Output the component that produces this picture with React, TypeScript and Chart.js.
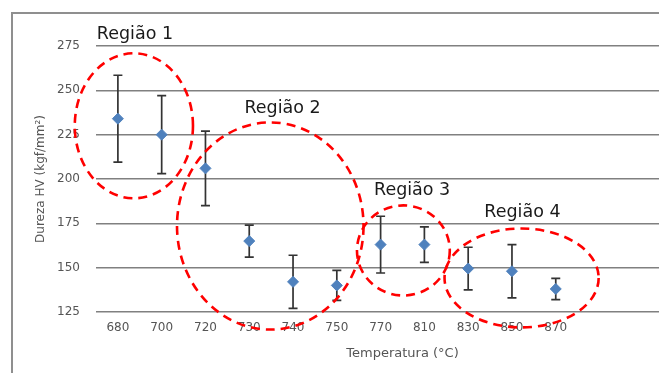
import React, { useEffect, useRef } from 'react';
import { Chart, registerables } from 'chart.js';

Chart.register(...registerables);

// ---- data ----
const temperatures = ['680', '700', '720', '730', '740', '750', '770', '810', '830', '850', '870'];
const emptySlots = ['', '', ''];
const hardness = [234, 225, 206, 165, 142, 140, 163, 163, 149.5, 148, 138];
const hardnessError = [24.5, 22, 21, 9, 15, 8.5, 16, 10, 12, 15, 6];
const yMin = 125;
const yMax = 275;
const yStep = 25;

// region annotations (category index / value coordinates)
const regionNames = ['Região 1', 'Região 2', 'Região 3', 'Região 4'];
const regionLabelX = [0.39, 3.76, 6.72, 9.24];
const regionLabelY = [278.8, 237.0, 190.7, 178.3];
const regionCenterX = [0.365, 3.48, 6.52, 9.22];
const regionCenterY = [230.0, 173.5, 159.7, 144.2];
const regionRadiusX = [1.35, 2.13, 1.06, 1.76];
const regionRadiusY = [40.9, 58.4, 25.4, 27.9];

const FONT = '"DejaVu Sans", sans-serif';

const errorBarPlugin = {
  id: 'errorBars',
  beforeDatasetsDraw(chart: any) {
    const { ctx, scales } = chart;
    const x = scales.x;
    const y = scales.y;
    ctx.save();
    ctx.strokeStyle = '#333333';
    ctx.lineWidth = 1.7;
    hardness.forEach((v, i) => {
      const px = x.getPixelForValue(i);
      const top = y.getPixelForValue(v + hardnessError[i]);
      const bot = y.getPixelForValue(v - hardnessError[i]);
      const cap = 4.5;
      ctx.beginPath();
      ctx.moveTo(px, top);
      ctx.lineTo(px, bot);
      ctx.moveTo(px - cap, top);
      ctx.lineTo(px + cap, top);
      ctx.moveTo(px - cap, bot);
      ctx.lineTo(px + cap, bot);
      ctx.stroke();
    });
    ctx.restore();
  },
};

const regionPlugin = {
  id: 'regions',
  afterDraw(chart: any) {
    const { ctx, scales } = chart;
    const x = scales.x;
    const y = scales.y;
    ctx.save();
    ctx.strokeStyle = '#ff0000';
    ctx.lineWidth = 2.6;
    ctx.setLineDash([9, 6]);
    regionNames.forEach((_, i) => {
      const cx = x.getPixelForValue(regionCenterX[i]);
      const cy = y.getPixelForValue(regionCenterY[i]);
      const rx = Math.abs(x.getPixelForValue(regionCenterX[i] + regionRadiusX[i]) - cx);
      const ry = Math.abs(y.getPixelForValue(regionCenterY[i] + regionRadiusY[i]) - cy);
      ctx.beginPath();
      ctx.ellipse(cx, cy, rx, ry, 0, 0, Math.PI * 2);
      ctx.stroke();
    });
    ctx.setLineDash([]);
    ctx.fillStyle = '#1a1a1a';
    ctx.font = '17.5px ' + FONT;
    ctx.textAlign = 'center';
    ctx.textBaseline = 'alphabetic';
    regionNames.forEach((name, i) => {
      ctx.fillText(name, x.getPixelForValue(regionLabelX[i]), y.getPixelForValue(regionLabelY[i]));
    });
    ctx.restore();
  },
};

export default function App() {
  const canvasRef = useRef<HTMLCanvasElement | null>(null);

  useEffect(() => {
    if (!canvasRef.current) return;
    const chart = new Chart(canvasRef.current, {
      type: 'line',
      data: {
        labels: [...temperatures, ...emptySlots],
        datasets: [
          {
            label: 'Dureza HV',
            data: hardness,
            showLine: false,
            pointStyle: 'rectRot',
            pointRadius: 5.5,
            pointBackgroundColor: '#4f81bd',
            pointBorderColor: '#4f81bd',
            pointBorderWidth: 1,
          },
        ],
      },
      options: {
        animation: false,
        responsive: false,
        devicePixelRatio: 1,
        layout: { padding: { top: 32, right: 20, bottom: 38, left: 0 } },
        plugins: {
          legend: { display: false },
          tooltip: { enabled: false },
        },
        scales: {
          x: {
            type: 'category',
            offset: true,
            grid: { display: false, drawTicks: false },
            border: { display: false },
            ticks: {
              padding: 9,
              autoSkip: false,
              maxRotation: 0,
              color: '#555555',
              font: { family: FONT, size: 12 },
            },
            title: {
              display: true,
              text: 'Temperatura (°C)',
              color: '#555555',
              font: { family: FONT, size: 13 },
              padding: { top: 0, bottom: 10.4 },
            },
            afterFit: (scale: any) => {
              scale.height = 60;
            },
          },
          y: {
            min: yMin,
            max: yMax,
            grid: { color: '#808080', lineWidth: 1.5, drawTicks: false },
            border: { display: false },
            ticks: {
              stepSize: yStep,
              padding: 16,
              color: '#555555',
              font: { family: FONT, size: 12 },
            },
            title: {
              display: true,
              text: 'Dureza HV (kgf/mm²)',
              color: '#555555',
              font: { family: FONT, size: 12 },
              padding: { top: 21, bottom: 0 },
            },
            afterFit: (scale: any) => {
              scale.width = 83;
            },
          },
        },
      },
      plugins: [errorBarPlugin, regionPlugin],
    } as any);
    return () => chart.destroy();
  }, []);

  return (
    <div style={{ position: 'fixed', left: 0, top: 0, width: 659, height: 373, overflow: 'hidden', background: '#ffffff' }}>
      <div
        style={{
          position: 'absolute',
          left: 11,
          top: 12,
          width: 716,
          height: 396,
          border: '2px solid #8f8f8f',
        }}
      >
        <canvas ref={canvasRef} width={716} height={396} style={{ display: 'block' }} />
      </div>
    </div>
  );
}
